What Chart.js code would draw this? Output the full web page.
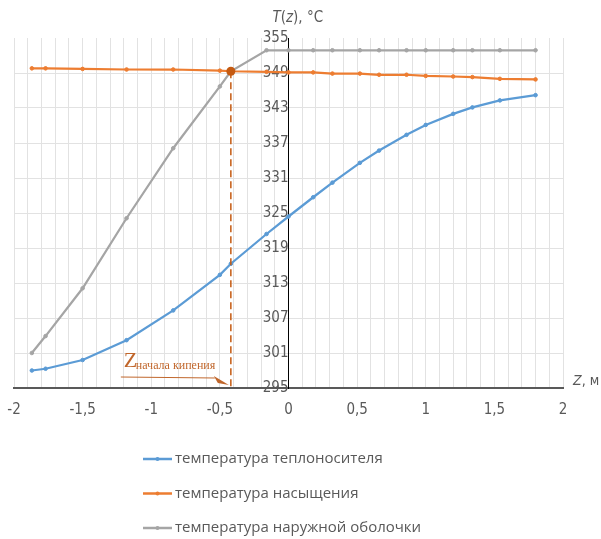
<!DOCTYPE html>
<html>
<head>
<meta charset="utf-8">
<script src="https://cdn.jsdelivr.net/npm/chart.js@4.4.0/dist/chart.umd.min.js"></script>
<style>
  html, body { margin: 0; padding: 0; background: #fff; }
</style>
</head>
<body>
<canvas id="myChart" width="601" height="539"></canvas>
<script>
//axial coordinate, m
const zValues = [-1.87, -1.77, -1.5, -1.18, -0.84, -0.5, -0.42, -0.16, 0, 0.18, 0.32, 0.52, 0.66, 0.86, 1.0, 1.2, 1.34, 1.54, 1.8];

//temperatures, °C
const coolantTemp    = [298.0, 298.3, 299.8, 303.2, 308.3, 314.4, 316.3, 321.4, 324.4, 327.7, 330.2, 333.6, 335.7, 338.4, 340.1, 342.0, 343.1, 344.3, 345.2];
const saturationTemp = [349.8, 349.8, 349.7, 349.6, 349.6, 349.4, 349.3, 349.2, 349.1, 349.1, 348.9, 348.9, 348.7, 348.7, 348.5, 348.4, 348.3, 348.0, 347.9];
const shellTemp      = [301.0, 303.9, 312.1, 324.1, 336.1, 346.7, 349.3, 352.9, 352.9, 352.9, 352.9, 352.9, 352.9, 352.9, 352.9, 352.9, 352.9, 352.9, 352.9];

const seriesLabels = ['температура теплоносителя', 'температура насыщения', 'температура наружной оболочки'];
const seriesColors = ['#5b9bd5', '#ed7d31', '#a5a5a5'];

//boiling start point
const boilStart = { z: -0.42, t: 349.3 };

const yMin = 295, yMax = 355, yStep = 6;
const xMin = -2, xMax = 2;

const tickFont = { family: "'Liberation Sans Narrow', 'DejaVu Sans Condensed', sans-serif", size: 15 };
const textColor = '#595959';
const accent = '#c55a11';

function toPoints(ys) {
    return zValues.map((z, i) => ({ x: z, y: ys[i] }));
}

//axis titles, boiling annotation and legend
const extras = {
    id: 'extras',
    afterDatasetsDraw(chart) {
        const ctx = chart.ctx;
        const xs = chart.scales.x, ys = chart.scales.y;
        const area = chart.chartArea;
        const px = xs.getPixelForValue(boilStart.z);
        const py = ys.getPixelForValue(boilStart.t);
        const bottom = ys.getPixelForValue(yMin);

        ctx.save();
        //dashed drop line
        ctx.strokeStyle = accent;
        ctx.lineWidth = 1.5;
        ctx.setLineDash([7, 4]);
        ctx.beginPath();
        ctx.moveTo(px, py);
        ctx.lineTo(px, bottom);
        ctx.stroke();
        ctx.setLineDash([]);

        //dot
        ctx.fillStyle = accent;
        ctx.beginPath();
        ctx.arc(px, py, 4.5, 0, Math.PI * 2);
        ctx.fill();

        //label
        ctx.fillStyle = '#c0662b';
        ctx.textBaseline = 'alphabetic';
        ctx.textAlign = 'left';
        ctx.font = "22px 'Liberation Serif', serif";
        ctx.fillText('Z', px - 107, bottom - 21);
        ctx.font = "12px 'Liberation Serif', serif";
        ctx.fillText('начала кипения', px - 95, bottom - 19);

        //arrow
        ctx.strokeStyle = '#c0662b';
        ctx.lineWidth = 1;
        ctx.beginPath();
        ctx.moveTo(px - 110, bottom - 11);
        ctx.lineTo(px - 16, bottom - 10);
        ctx.stroke();
        ctx.beginPath();
        ctx.moveTo(px - 2, bottom - 3);
        ctx.lineTo(px - 17, bottom - 12);
        ctx.lineTo(px - 13, bottom - 5);
        ctx.closePath();
        ctx.fill();

        //y axis title
        const x0 = xs.getPixelForValue(0);
        ctx.fillStyle = textColor;
        ctx.textBaseline = 'middle';
        const parts = [['T', true], ['(', false], ['z', true], ['), °C', false]];
        let tx = x0 - 16;
        parts.forEach(([s, it]) => {
            ctx.font = (it ? 'italic ' : '') + '15px ' + tickFont.family;
            ctx.fillText(s, tx, area.top - 20);
            tx += ctx.measureText(s).width;
        });

        //x axis title
        let zx = area.right + 10;
        ctx.font = 'italic 14px ' + tickFont.family;
        ctx.fillText('Z', zx, bottom - 7);
        zx += ctx.measureText('Z').width;
        ctx.font = '14px ' + tickFont.family;
        ctx.fillText(', м', zx, bottom - 7);

        //legend
        chart.data.datasets.forEach((ds, i) => {
            const ly = bottom + 71 + i * 34.5;
            ctx.strokeStyle = ds.borderColor;
            ctx.lineWidth = 2.5;
            ctx.beginPath();
            ctx.moveTo(143, ly);
            ctx.lineTo(172, ly);
            ctx.stroke();
            ctx.fillStyle = ds.borderColor;
            ctx.beginPath();
            ctx.arc(157.5, ly, 2, 0, Math.PI * 2);
            ctx.fill();
            ctx.fillStyle = textColor;
            ctx.font = "15px 'Open Sans', sans-serif";
            ctx.textBaseline = 'middle';
            ctx.fillText(ds.label, 175, ly);
        });
        ctx.restore();
    }
};

function renderChart() {
    const ctx = document.getElementById('myChart');
    const series = [coolantTemp, saturationTemp, shellTemp];
    new Chart(ctx, {
        type: 'line',
        data: {
            datasets: series.map((s, i) => ({
                label: seriesLabels[i],
                data: toPoints(s),
                borderColor: seriesColors[i],
                backgroundColor: seriesColors[i],
                borderWidth: 2.25,
                pointRadius: 1.8,
                pointBorderWidth: 1,
                pointHoverRadius: 1.8,
                tension: 0,
            }))
        },
        options: {
            responsive: false,
            animation: false,
            layout: { padding: { left: 14, right: 38, top: 38, bottom: 107 } },
            plugins: {
                legend: { display: false },
                tooltip: { enabled: false },
            },
            scales: {
                x: {
                    type: 'linear',
                    position: 'bottom',
                    min: xMin,
                    max: xMax,
                    border: { color: '#595959', width: 2 },
                    grid: { color: '#e2e2e2', drawTicks: false },
                    afterFit: (s) => { s.paddingLeft = 0; s.paddingRight = 0; },
                    ticks: {
                        stepSize: 0.1,
                        autoSkip: false,
                        maxRotation: 0,
                        padding: 13,
                        color: textColor,
                        font: tickFont,
                        callback: (v) => {
                            const r = Math.round(v * 2) / 2;
                            if (Math.abs(v - r) > 1e-6) return '';
                            return String(r).replace('.', ',');
                        },
                    },
                },
                y: {
                    type: 'linear',
                    position: { x: 0 },
                    min: yMin,
                    max: yMax,
                    border: { color: '#000000', width: 1 },
                    grid: {
                        drawTicks: false,
                        color: (c) => (c.tick && c.tick.value === yMax ? 'rgba(0,0,0,0)' : '#e2e2e2'),
                    },
                    ticks: {
                        stepSize: yStep,
                        padding: 5,
                        color: textColor,
                        font: tickFont,
                    },
                },
            },
        },
        plugins: [extras],
    });
}
renderChart();
</script>
</body>
</html>
